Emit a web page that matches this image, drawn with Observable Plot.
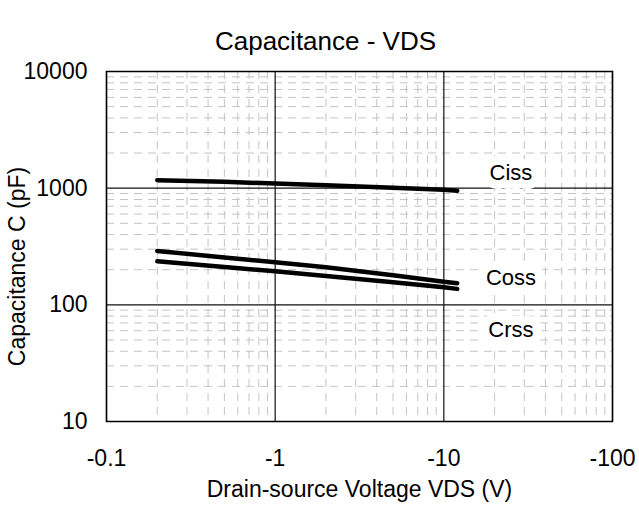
<!DOCTYPE html>
<html>
<head>
<meta charset="utf-8">
<script src="https://cdn.jsdelivr.net/npm/d3@7"></script>
<script src="https://cdn.jsdelivr.net/npm/@observablehq/plot@0.6"></script>
<style>
  html, body { margin: 0; padding: 0; background: white; }
  svg { display: block; }
</style>
</head>
<body>
<div id="chart"></div>
<script>
// Drain-source voltage (V)
const vds  = [-0.2, -0.5, -1, -2, -5, -10, -12];
// Capacitances (pF)
const ciss = [1171, 1133, 1095, 1061, 1006, 967, 950];
const coss = [290, 255, 232, 210, 179, 158, 153];
const crss = [236, 211, 194, 177, 156, 141.5, 137];

const seriesNames = ["Ciss", "Coss", "Crss"];
const labelX = [-25, -25, -25];
const labelY = [1345, 170, 60.6];

const xMajor = [-0.1, -1, -10, -100];
const yMajor = [10, 100, 1000, 10000];
const xMinor = [-0.2, -0.3, -0.4, -0.5, -0.6, -0.7, -0.8, -0.9,
                -2, -3, -4, -5, -6, -7, -8, -9,
                -20, -30, -40, -50, -60, -70, -80, -90];
const yMinor = [20, 30, 40, 50, 60, 70, 80, 90,
                200, 300, 400, 500, 600, 700, 800, 900,
                2000, 3000, 4000, 5000, 6000, 7000, 8000, 9000];

const titleText = "Capacitance - VDS";
const xLabel = "Drain-source Voltage VDS (V)";
const yLabel = "Capacitance C (pF)";

const seriesValues = [ciss, coss, crss];
const rows = [];
seriesNames.forEach((name, i) => {
  vds.forEach((v, j) => rows.push({series: name, vds: v, c: seriesValues[i][j]}));
});
const labels = seriesNames.map((name, i) => ({name, x: labelX[i], y: labelY[i]}));

const chart = Plot.plot({
  width: 639,
  height: 514,
  marginLeft: 106,
  marginRight: 27,
  marginTop: 71,
  marginBottom: 93,
  style: {fontFamily: "'Liberation Sans', Arial, sans-serif", fontSize: "23px", background: "white", color: "black"},
  x: {type: "log", domain: [-0.1, -100], label: null},
  y: {type: "log", domain: [10, 10000], label: null},
  marks: [
    Plot.ruleX(xMinor, {stroke: "#c4c4c4", strokeWidth: 1, strokeDasharray: "8,6"}),
    Plot.ruleY(yMinor, {stroke: "#c4c4c4", strokeWidth: 1, strokeDasharray: "8,6"}),
    Plot.ruleX(xMajor, {stroke: "#111", strokeWidth: 1.2}),
    Plot.ruleY(yMajor, {stroke: "#111", strokeWidth: 1.2}),
    Plot.line(rows, {x: "vds", y: "c", z: "series", stroke: "black", strokeWidth: 4.5, strokeLinecap: "round"}),
    Plot.text(labels, {x: "x", y: "y", text: "name", fontSize: 22, fill: "black", stroke: "white", strokeWidth: 18, strokeLinejoin: "round"}),
    Plot.frame({stroke: "black", strokeWidth: 1.5}),
    Plot.axisX({ticks: xMajor, tickFormat: d => String(d), tickSize: 0, tickPadding: 28, label: null, fontSize: 23}),
    Plot.axisY({ticks: yMajor, tickFormat: d => String(d), tickSize: 0, tickPadding: 19, label: null, fontSize: 23}),
    Plot.text([titleText], {frameAnchor: "top", dy: -40, dx: -34, fontSize: 26}),
    Plot.text([xLabel], {frameAnchor: "bottom", dy: 75, fontSize: 23}),
    Plot.text([yLabel], {frameAnchor: "left", textAnchor: "middle", dx: -89, dy: 20, rotate: -90, fontSize: 23})
  ]
});

document.getElementById("chart").appendChild(chart);
</script>
</body>
</html>
